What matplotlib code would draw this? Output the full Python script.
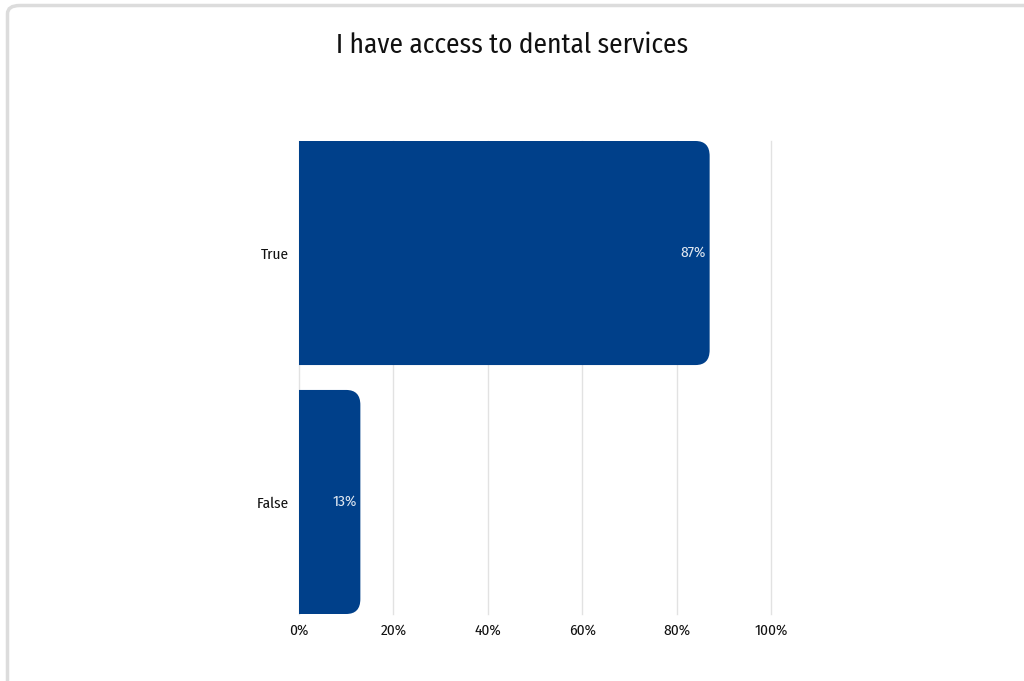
import matplotlib
matplotlib.use("Agg")
import matplotlib.pyplot as plt
from matplotlib import font_manager
from matplotlib.font_manager import FontProperties
from matplotlib.path import Path
from matplotlib.patches import PathPatch, FancyBboxPatch

# ...Chart data
title = "I have access to dental services"
categories = ["True", "False"]
values = [87, 13]
tick_values = [0, 20, 40, 60, 80, 100]
tick_labels = ["0%", "20%", "40%", "60%", "80%", "100%"]

BAR_COLOR = "#00408a"


def condensed_font():
    """
    Pick the upright light Open Sans Condensed file, or fall back
    """
    for f in font_manager.fontManager.ttflist:
        if f.name == "Open Sans Condensed" and f.weight == 300 and f.style == "normal":
            return f.fname
    return None


def rounded_bar(ax, y, width, height, rx, ry, color):
    """
    Horizontal bar with the right-hand corners rounded
    """
    y0 = y - height / 2
    y1 = y + height / 2
    verts = [
        (0, y0),
        (width - rx, y0),
        (width, y0),
        (width, y0 + ry),
        (width, y1 - ry),
        (width, y1),
        (width - rx, y1),
        (0, y1),
        (0, y0),
    ]
    codes = [
        Path.MOVETO,
        Path.LINETO,
        Path.CURVE3,
        Path.CURVE3,
        Path.LINETO,
        Path.CURVE3,
        Path.CURVE3,
        Path.LINETO,
        Path.CLOSEPOLY,
    ]
    ax.add_patch(PathPatch(Path(verts, codes), facecolor=color, edgecolor="none", zorder=3))


def main():
    fname = condensed_font()

    def fp(size):
        if fname:
            return FontProperties(fname=fname, size=size)
        return FontProperties(family=["Fira Sans Condensed", "DejaVu Sans"], size=size)

    fig = plt.figure(figsize=(10.24, 6.81), dpi=100)
    fig.patch.set_facecolor("white")

    # ...Card border, runs past the right and bottom edges
    card = FancyBboxPatch(
        (7.5 / 1024, -0.2),
        1.2,
        1.0 - 5.5 / 681 + 0.2,
        boxstyle="round,pad=0,rounding_size=0.012",
        transform=fig.transFigure,
        facecolor="none",
        edgecolor="#dcdcdc",
        linewidth=2.5,
    )
    fig.patches.append(card)

    fig.text(0.5, 1 - 45 / 681, title, ha="center", va="center", fontproperties=fp(19.6), color="#111111")

    ax = fig.add_axes([299 / 1024, 67 / 681, 472 / 1024, 473 / 681])
    ax.set_xlim(0, 100)
    ax.set_ylim(1.45, -0.45)

    bar_h = 0.9
    rx = 3.0
    ry = 0.06
    for i, (cat, val) in enumerate(zip(categories, values)):
        rounded_bar(ax, i, val, bar_h, rx, ry, BAR_COLOR)
        ax.text(
            val - 0.8,
            i,
            f"{val}%",
            ha="right",
            va="center",
            fontproperties=fp(11),
            color="#dfe7f1",
            zorder=4,
        )

    ax.set_yticks(range(len(categories)))
    ax.set_yticklabels(categories, fontproperties=fp(11))
    ax.set_xticks(tick_values)
    ax.set_xticklabels(tick_labels, fontproperties=fp(11))
    ax.tick_params(axis="both", length=0, colors="#111111")
    ax.tick_params(axis="x", pad=7)
    ax.tick_params(axis="y", pad=7)

    # ...Grid lines drawn by hand so the 100% line is not clipped at the edge
    for t in tick_values:
        ax.axvline(t, color="#e2e2e2", linewidth=1, zorder=0, clip_on=False)
    for spine in ax.spines.values():
        spine.set_visible(False)

    fig.savefig("out.png", dpi=100)


if __name__ == "__main__":
    main()
